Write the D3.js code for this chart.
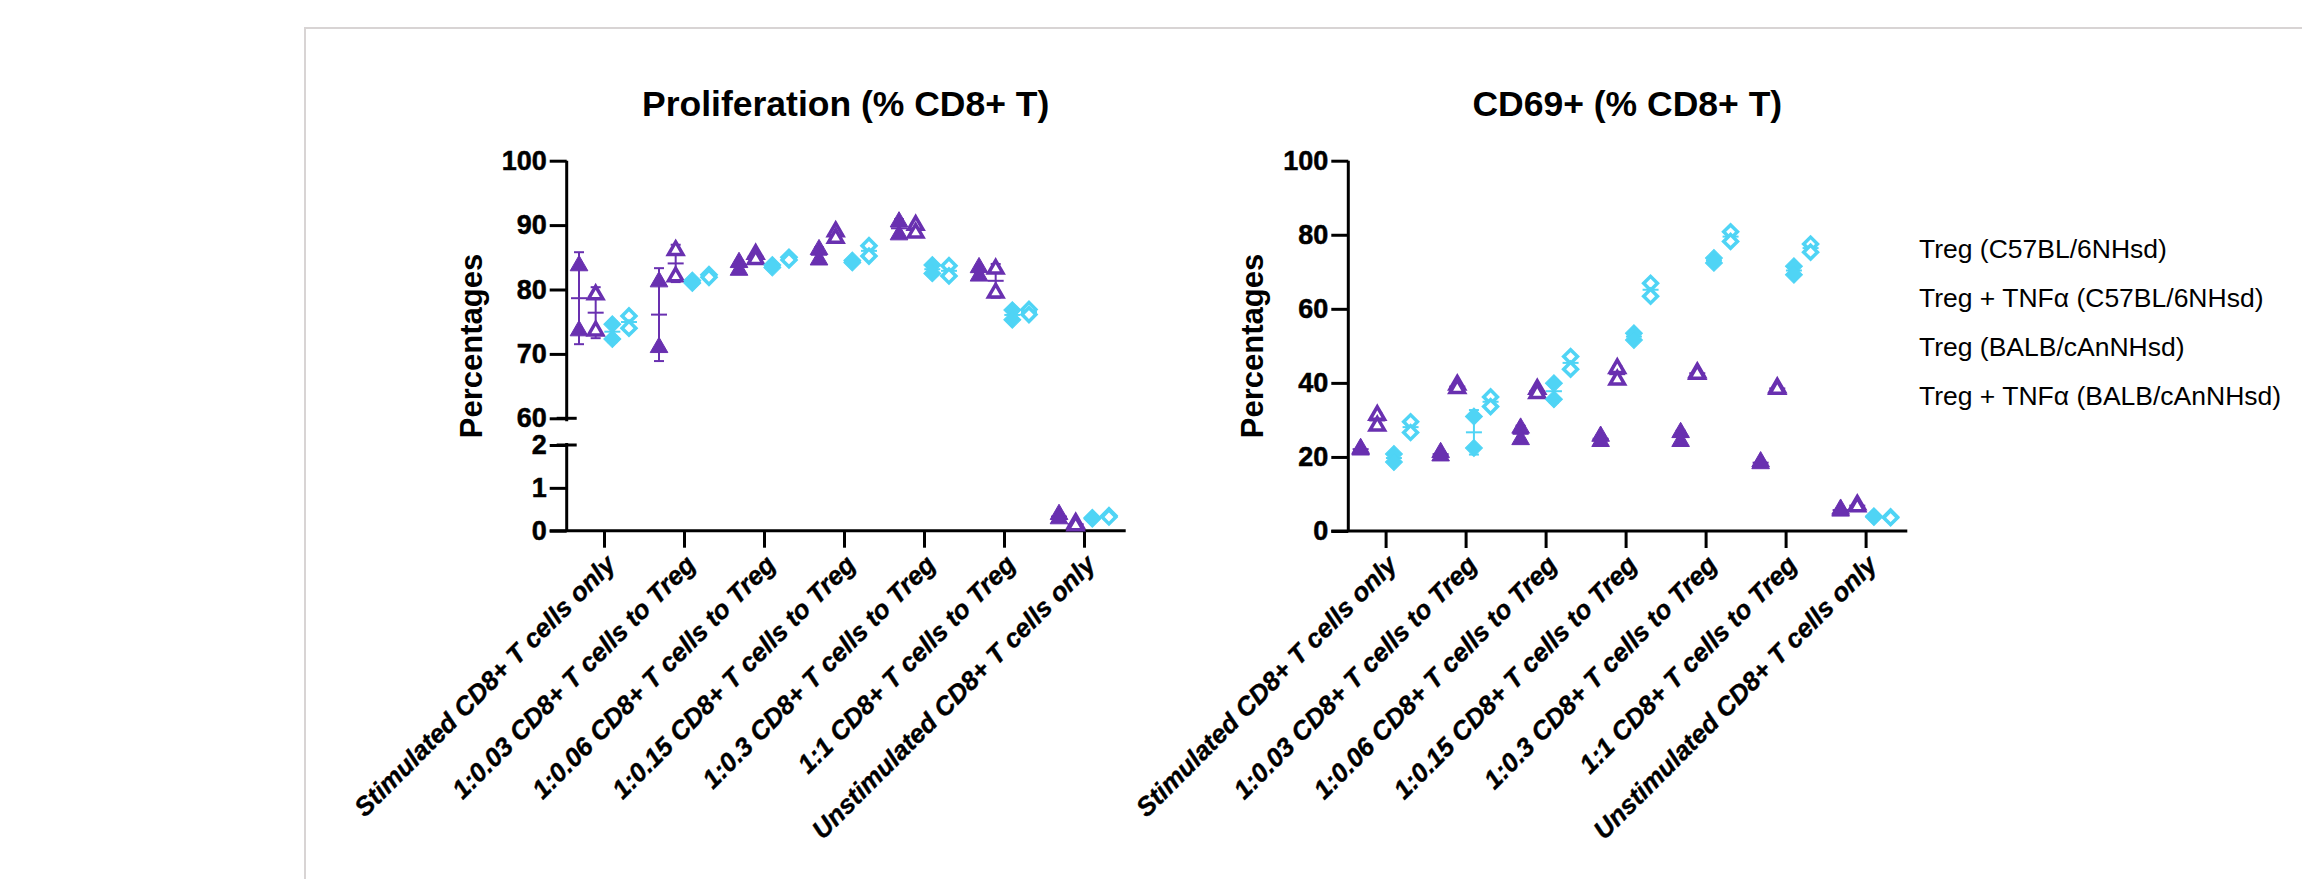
<!DOCTYPE html>
<html>
<head>
<meta charset="utf-8">
<script src="https://cdn.jsdelivr.net/npm/d3@7"></script>
<style>
  body { margin: 0; background: #fff; }
  text { font-family: "Liberation Sans", Arial, sans-serif; }
</style>
</head>
<body>
<svg id="chart" width="2302" height="879"></svg>
<script>
var categories = [
  "Stimulated CD8+ T cells only",
  "1:0.03 CD8+ T cells to Treg",
  "1:0.06 CD8+ T cells to Treg",
  "1:0.15 CD8+ T cells to Treg",
  "1:0.3 CD8+ T cells to Treg",
  "1:1 CD8+ T cells to Treg",
  "Unstimulated CD8+ T cells only"
];
var seriesNames = [
  "Treg (C57BL/6NHsd)",
  "Treg + TNFα (C57BL/6NHsd)",
  "Treg (BALB/cAnNHsd)",
  "Treg + TNFα (BALB/cAnNHsd)"
];

// replicate values per category
var prolifTregB6   = [[83.7, 73.6], [81.2, 71.0], [84.2, 83.0], [86.2, 84.6], [90.5, 88.5], [83.4, 82.1], [0.38, 0.28]];
var prolifTnfB6    = [[79.2, 73.6], [86.1, 82.0], [85.5, 84.7], [89.0, 88.0], [90.0, 88.8], [83.2, 79.5], [0.18, 0.12]];
var prolifTregBalb = [[74.6, 72.3], [81.4, 81.0], [83.8, 83.4], [84.5, 84.2], [83.8, 82.5], [76.8, 75.3], [0.30, 0.28]];
var prolifTnfBalb  = [[75.9, 74.0], [82.3, 81.9], [85.0, 84.6], [86.8, 85.2], [83.7, 82.1], [76.9, 76.1], [0.35, 0.32]];

var cd69TregB6   = [[22.3, 21.9], [21.2, 20.3], [27.8, 24.7], [25.6, 24.2], [26.6, 24.2], [18.7, 18.2], [5.9, 5.4]];
var cd69TnfB6    = [[31.3, 28.4], [39.5, 38.5], [38.3, 37.2], [43.9, 40.8], [42.8, 42.4], [38.7, 38.3], [7.1, 6.6]];
var cd69TregBalb = [[20.8, 18.6], [30.9, 22.4], [39.9, 35.6], [53.4, 51.6], [73.7, 72.4], [71.5, 69.2], [4.0, 3.8]];
var cd69TnfBalb  = [[29.5, 26.6], [36.2, 33.6], [47.1, 43.7], [66.9, 63.4], [80.8, 78.2], [77.5, 75.3], [3.8, 3.6]];

var prolifUpperTicks = [60, 70, 80, 90, 100];
var prolifLowerTicks = [0, 1, 2];
var cd69Ticks = [0, 20, 40, 60, 80, 100];

var purple = "#6930b0", cyan = "#4fd4f5";
var seriesStyle = [
  {color: purple, shape: "tri", open: false},
  {color: purple, shape: "tri", open: true},
  {color: cyan, shape: "dia", open: false},
  {color: cyan, shape: "dia", open: true}
];

var svg = d3.select("#chart");

// frame
svg.append("rect")
  .attr("x", 305).attr("y", 28)
  .attr("width", 2100).attr("height", 900)
  .attr("fill", "none").attr("stroke", "#d8d4d4").attr("stroke-width", 2);

var axisW = 3, tickLen = 17;

function styleAxis(g) {
  g.select(".domain").remove();
  g.selectAll(".tick line").attr("stroke", "#000").attr("stroke-width", axisW);
  g.selectAll(".tick text")
    .attr("fill", "#000")
    .attr("stroke", "#000").attr("stroke-width", 0.5)
    .style("font-size", "27px")
    .style("font-weight", "bold");
}

function drawPanel(ox, title, data, yFn, yAxes) {
  var g = svg.append("g");
  var x = d3.scalePoint().domain(categories).range([ox - 2.7, ox + 557.3]).padding(0.5);
  var sub = d3.scaleBand().domain(seriesNames).range([-33.3, 33.3]);
  var y0 = yFn(0);

  // title
  g.append("text")
    .attr("x", ox + 279).attr("y", 116)
    .attr("text-anchor", "middle")
    .style("font-size", "35.5px").style("font-weight", "bold")
    .text(title);

  // y label
  g.append("text")
    .attr("transform", "translate(" + (ox - 85) + ",346) rotate(-90)")
    .attr("text-anchor", "middle")
    .style("font-size", "31px").style("font-weight", "bold")
    .text("Percentages");

  // y axes (one or two segments)
  yAxes.forEach(function(a) {
    var ag = g.append("g").attr("transform", "translate(" + ox + ",0)")
      .call(d3.axisLeft(a.scale).tickValues(a.ticks).tickFormat(d3.format("d"))
        .tickSize(tickLen).tickPadding(3));
    styleAxis(ag);
    var r = a.scale.range();
    g.append("line")
      .attr("x1", ox).attr("x2", ox)
      .attr("y1", Math.max(r[0], r[1]) + (a.padBottom || 0))
      .attr("y2", Math.min(r[0], r[1]) - (a.padTop || 0))
      .attr("stroke", "#000").attr("stroke-width", axisW);
    (a.breaks || []).forEach(function(v) {
      g.append("line")
        .attr("x1", ox - 10).attr("x2", ox + 10)
        .attr("y1", a.scale(v)).attr("y2", a.scale(v))
        .attr("stroke", "#000").attr("stroke-width", axisW);
    });
  });

  // x axis
  var xg = g.append("g").attr("transform", "translate(0," + y0 + ")")
    .call(d3.axisBottom(x).tickSize(tickLen));
  styleAxis(xg);
  xg.selectAll(".tick text")
    .attr("x", 0).attr("y", 0).attr("dy", "0.35em")
    .attr("transform", "translate(6," + (tickLen + 12) + ") rotate(-45)")
    .attr("text-anchor", "end")
    .attr("stroke-width", 0.4)
    .style("font-size", "26px")
    .style("font-style", "italic");
  g.append("line")
    .attr("x1", ox - tickLen).attr("x2", ox + 559)
    .attr("y1", y0).attr("y2", y0)
    .attr("stroke", "#000").attr("stroke-width", axisW);

  // error bars (mean +/- SD) and points
  data.forEach(function(series, si) {
    var st = seriesStyle[si];
    var sg = g.append("g");
    series.forEach(function(vals, ci) {
      var cx = x(categories[ci]) + sub(seriesNames[si]) + sub.bandwidth() / 2;
      var m = d3.mean(vals), sd = d3.deviation(vals) || 0;
      var eb = sg.append("g").attr("stroke", st.color).attr("stroke-width", 2);
      eb.append("line").attr("x1", cx).attr("x2", cx).attr("y1", yFn(m - sd)).attr("y2", yFn(m + sd));
      eb.append("line").attr("x1", cx - 5).attr("x2", cx + 5).attr("y1", yFn(m - sd)).attr("y2", yFn(m - sd));
      eb.append("line").attr("x1", cx - 5).attr("x2", cx + 5).attr("y1", yFn(m + sd)).attr("y2", yFn(m + sd));
      eb.append("line").attr("x1", cx - 8).attr("x2", cx + 8).attr("y1", yFn(m)).attr("y2", yFn(m));
    });
    series.forEach(function(vals, ci) {
      var cx = x(categories[ci]) + sub(seriesNames[si]) + sub.bandwidth() / 2;
      vals.forEach(function(v) {
        var sym = st.shape === "tri"
          ? d3.symbol().type(d3.symbolTriangle).size(st.open ? 90 : 135)
          : d3.symbol().type(d3.symbolSquare).size(st.open ? 95 : 145);
        var rot = st.shape === "dia" ? " rotate(45)" : "";
        sg.append("path")
          .attr("d", sym())
          .attr("transform", "translate(" + cx + "," + yFn(v) + ")" + rot)
          .attr("fill", st.open ? "#fff" : st.color)
          .attr("stroke", st.color)
          .attr("stroke-width", st.open ? 3.5 : 1);
      });
    });
  });
}

// left panel: broken axis
var leftOx = 566.7;
var yUpper = d3.scaleLinear().domain([60, 100]).range([418.3, 160.7]);
var yLower = d3.scaleLinear().domain([0, 2]).range([530.7, 445]);
function yProlif(v) { return v <= 2 ? yLower(v) : yUpper(v); }
drawPanel(leftOx, "Proliferation (% CD8+ T)",
  [prolifTregB6, prolifTnfB6, prolifTregBalb, prolifTnfBalb], yProlif,
  [{scale: yUpper, ticks: prolifUpperTicks, padBottom: 3, breaks: [60]},
   {scale: yLower, ticks: prolifLowerTicks, padTop: 2, breaks: [2]}]);

// right panel
var rightOx = 1348.3;
var yCd69 = d3.scaleLinear().domain([0, 100]).range([531, 160.7]);
drawPanel(rightOx, "CD69+ (% CD8+ T)",
  [cd69TregB6, cd69TnfB6, cd69TregBalb, cd69TnfBalb], yCd69,
  [{scale: yCd69, ticks: cd69Ticks}]);

// legend (text only)
svg.append("g").selectAll("text")
  .data(seriesNames)
  .enter().append("text")
  .attr("x", 1919)
  .attr("y", function(d, i) { return 258 + i * 49; })
  .style("font-size", "26.5px")
  .attr("fill", "#000")
  .text(function(d) { return d; });
</script>
</body>
</html>
